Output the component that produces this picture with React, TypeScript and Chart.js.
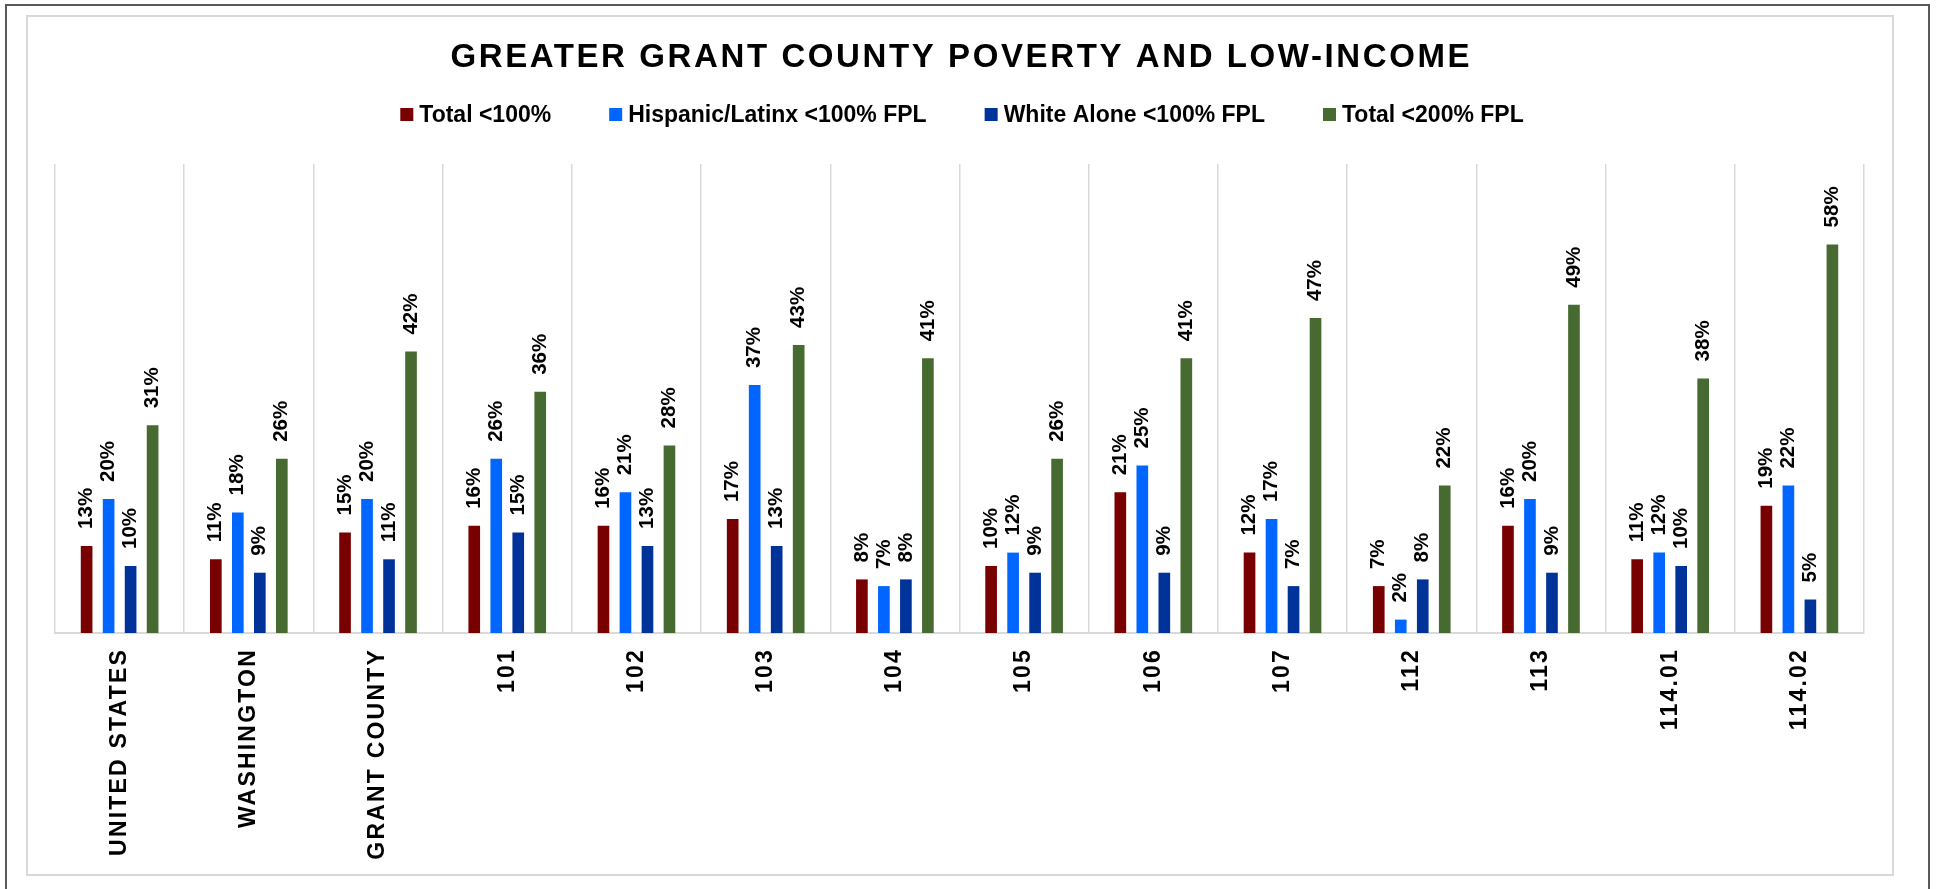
import React, { useEffect, useRef } from 'react';
import { Chart, registerables } from 'chart.js';

Chart.register(...registerables);

const TITLE = 'GREATER GRANT COUNTY POVERTY AND LOW-INCOME';
const CATEGORIES = ['UNITED STATES', 'WASHINGTON', 'GRANT COUNTY', '101', '102', '103', '104', '105', '106', '107', '112', '113', '114.01', '114.02'];
const SERIES_LABELS = ['Total <100%', 'Hispanic/Latinx <100% FPL', 'White Alone <100% FPL', 'Total <200% FPL'];
const SERIES_COLORS = ['#780000', '#0066FF', '#003399', '#466A2F'];
const TOTAL_100 = [13, 11, 15, 16, 16, 17, 8, 10, 21, 12, 7, 16, 11, 19];
const HISPANIC_100 = [20, 18, 20, 26, 21, 37, 7, 12, 25, 17, 2, 20, 12, 22];
const WHITE_100 = [10, 9, 11, 15, 13, 13, 8, 9, 9, 7, 8, 9, 10, 5];
const TOTAL_200 = [31, 26, 42, 36, 28, 43, 41, 26, 41, 47, 22, 49, 38, 58];
const Y_MAX = 70;

const FONT = '"Liberation Sans", Arial, Helvetica, sans-serif';

export default function App() {
  const ref = useRef<HTMLCanvasElement>(null);

  useEffect(() => {
    const canvas = ref.current;
    if (!canvas) return;

    const decor = {
      id: 'decor',
      beforeDraw(chart: any) {
        const ctx = chart.ctx as CanvasRenderingContext2D;
        ctx.save();
        ctx.fillStyle = '#ffffff';
        ctx.fillRect(0, 0, chart.width, chart.height);
        // outer frame
        ctx.strokeStyle = '#595959';
        ctx.lineWidth = 2;
        ctx.strokeRect(6, 5, 1923, 900);
        // inner chart frame
        ctx.strokeStyle = '#d9d9d9';
        ctx.lineWidth = 2;
        ctx.strokeRect(27, 16, 1866, 859);
        // title
        ctx.fillStyle = '#000000';
        ctx.font = `bold 33px ${FONT}`;
        (ctx as any).letterSpacing = '2.6px';
        ctx.textAlign = 'center';
        ctx.textBaseline = 'alphabetic';
        ctx.fillText(TITLE, 960 + 1.3, 67);
        (ctx as any).letterSpacing = '0px';
        // legend
        ctx.font = `bold 23px ${FONT}`;
        const box = 13;
        const boxGap = 6;
        const itemGap = 58;
        const widths = SERIES_LABELS.map((t) => ctx.measureText(t).width);
        const total = widths.reduce((a, w) => a + box + boxGap + w, 0) + itemGap * (SERIES_LABELS.length - 1);
        let x = 962 - total / 2;
        ctx.textAlign = 'left';
        SERIES_LABELS.forEach((t, i) => {
          ctx.fillStyle = SERIES_COLORS[i];
          ctx.fillRect(x, 108, box, box);
          ctx.fillStyle = '#000000';
          ctx.fillText(t, x + box + boxGap, 121.5);
          x += box + boxGap + widths[i] + itemGap;
        });
        ctx.restore();
      },
      afterDraw(chart: any) {
        const ctx = chart.ctx as CanvasRenderingContext2D;
        const xScale = chart.scales.x;
        // category labels
        ctx.save();
        ctx.fillStyle = '#000000';
        ctx.font = `bold 23px ${FONT}`;
        (ctx as any).letterSpacing = '2.2px';
        ctx.textAlign = 'right';
        ctx.textBaseline = 'middle';
        CATEGORIES.forEach((lab, i) => {
          const px = xScale.getPixelForValue(i);
          ctx.save();
          ctx.translate(px, 648);
          ctx.rotate(-Math.PI / 2);
          ctx.fillText(lab, 0, 0);
          ctx.restore();
        });
        (ctx as any).letterSpacing = '0px';
        // data labels
        ctx.font = `bold 20.5px ${FONT}`;
        ctx.textAlign = 'left';
        ctx.textBaseline = 'middle';
        chart.data.datasets.forEach((ds: any, d: number) => {
          const meta = chart.getDatasetMeta(d);
          meta.data.forEach((bar: any, i: number) => {
            const v = ds.data[i];
            ctx.save();
            ctx.translate(bar.x, bar.y - 17);
            ctx.rotate(-Math.PI / 2);
            ctx.fillText(`${v}%`, 0, 0);
            ctx.restore();
          });
        });
        ctx.restore();
      },
    };

    const seriesData = [TOTAL_100, HISPANIC_100, WHITE_100, TOTAL_200];

    const chart = new Chart(canvas, {
      type: 'bar',
      data: {
        labels: CATEGORIES,
        datasets: SERIES_LABELS.map((label, i) => ({
          label,
          data: seriesData[i],
          backgroundColor: SERIES_COLORS[i],
          borderWidth: 0,
          categoryPercentage: 0.681,
          barPercentage: 0.53,
        })),
      },
      options: {
        responsive: false,
        maintainAspectRatio: false,
        animation: false,
        devicePixelRatio: 1,
        layout: { padding: { left: 55, right: 72, top: 164, bottom: 256 } },
        plugins: {
          legend: { display: false },
          title: { display: false },
          tooltip: { enabled: false },
        },
        scales: {
          x: {
            grid: { display: true, color: '#d9d9d9', lineWidth: 1.5, drawTicks: false, offset: true },
            border: { display: true, color: '#d9d9d9', width: 2 },
            ticks: { display: false },
          },
          y: {
            display: false,
            min: 0,
            max: Y_MAX,
            grid: { display: false },
          },
        },
      },
      plugins: [decor],
    });

    return () => chart.destroy();
  }, []);

  return (
    <div style={{ position: 'absolute', left: 0, top: 0, width: 1936, height: 889, overflow: 'hidden', background: '#fff' }}>
      <canvas ref={ref} width={1936} height={889} style={{ display: 'block', width: 1936, height: 889 }} />
    </div>
  );
}
